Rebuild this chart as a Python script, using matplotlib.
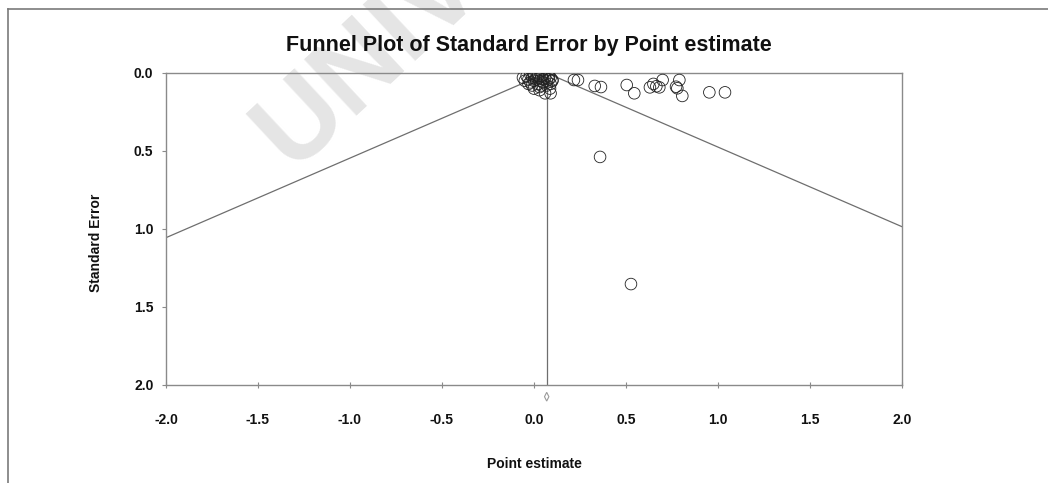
import matplotlib
matplotlib.use("Agg")
import matplotlib.pyplot as plt
from matplotlib.lines import Line2D
from matplotlib.patches import Polygon

plt.rcParams['font.family'] = ['Liberation Sans', 'DejaVu Sans']

# Study effect sizes (point estimates) and their standard errors
point_estimate = [
    -0.06, -0.05, -0.04, -0.03, -0.02, -0.02, -0.01, 0.00, 0.00, 0.01,
    0.01, 0.02, 0.02, 0.03, 0.03, 0.04, 0.04, 0.05, 0.05, 0.06,
    0.07, 0.08, 0.09, 0.10, 0.09, 0.08, -0.01, 0.03, 0.06, 0.09,
    0.087, 0.10, 0.03, -0.03, 0.00, 0.07,
    0.217, 0.239, 0.33, 0.364, 0.504, 0.545, 0.63, 0.649, 0.665, 0.681,
    0.699, 0.772, 0.779, 0.79, 0.806, 0.953, 1.038, 0.359, 0.527,
]
standard_error = [
    0.03, 0.05, 0.02, 0.04, 0.01, 0.06, 0.03, 0.02, 0.05, 0.01,
    0.04, 0.02, 0.07, 0.03, 0.05, 0.02, 0.08, 0.04, 0.06, 0.03,
    0.05, 0.04, 0.07, 0.05, 0.03, 0.02, 0.08, 0.11, 0.13, 0.13,
    0.10, 0.045, 0.09, 0.07, 0.10, 0.08,
    0.045, 0.045, 0.083, 0.09, 0.077, 0.13, 0.092, 0.07, 0.085, 0.092,
    0.045, 0.088, 0.098, 0.045, 0.147, 0.124, 0.124, 0.538, 1.353,
]

# Pooled estimate and its confidence interval
pooled_estimate = 0.069
pooled_ci = (0.057, 0.081)
z_crit = 1.96

x_ticks = [-2.0, -1.5, -1.0, -0.5, 0.0, 0.5, 1.0, 1.5, 2.0]
y_ticks = [0.0, 0.5, 1.0, 1.5, 2.0]

W, H = 1048, 483
fig = plt.figure(figsize=(W / 100, H / 100), dpi=100)
ax = fig.add_axes([166 / W, 1 - 385 / H, 736 / W, 312 / H])
ax.set_facecolor('none')

grey = '#8a8a8a'
line_grey = '#6e6e6e'

# Funnel: pseudo 95% limits around the pooled estimate
se_max = 2.2
ax.plot([pooled_estimate - z_crit * se_max, pooled_estimate, pooled_estimate + z_crit * se_max],
        [se_max, 0.0, se_max], color=line_grey, lw=0.9, zorder=2)
ax.plot([pooled_estimate, pooled_estimate], [0.0, 2.0], color=line_grey, lw=0.9, zorder=2)

ax.scatter(point_estimate, standard_error, s=70, facecolors='none',
           edgecolors='#222222', linewidths=0.6, zorder=3)

# Diamond for the pooled estimate below the axis
y_d = 2.075
dh = 0.028
diamond = Polygon([[pooled_ci[0], y_d], [pooled_estimate, y_d - dh],
                   [pooled_ci[1], y_d], [pooled_estimate, y_d + dh]],
                  closed=True, fill=False, edgecolor='#9a9a9a', lw=0.8, clip_on=False)
ax.add_patch(diamond)

ax.set_xlim(-2.0, 2.0)
ax.set_ylim(2.0, 0.0)
ax.set_xticks(x_ticks)
ax.set_yticks(y_ticks)
ax.set_xticklabels([f"{t:.1f}" for t in x_ticks])
ax.set_yticklabels([f"{t:.1f}" for t in y_ticks])

for s in ax.spines.values():
    s.set_color(grey)
    s.set_linewidth(1.0)

ax.tick_params(axis='x', direction='inout', length=4, width=0.8, color=grey,
               pad=18, labelsize=10)
ax.tick_params(axis='y', direction='out', length=3, width=0.8, color=grey,
               pad=6, labelsize=10)
for lab in ax.get_xticklabels() + ax.get_yticklabels():
    lab.set_fontweight('bold')
    lab.set_color('#111111')

ax.set_xlabel('Point estimate', fontsize=10, fontweight='bold', color='#111111')
ax.set_ylabel('Standard Error', fontsize=10, fontweight='bold', color='#111111')
ax.xaxis.set_label_coords(0.5, -0.232)
ax.yaxis.set_label_coords(-0.0856, 0.455)

fig.text(529 / W, 1 - 45 / H, 'Funnel Plot of Standard Error by Point estimate',
         ha='center', va='center', fontsize=15.5, fontweight='bold', color='#111111')

# Page watermark behind the plot
fig.text(292 / W, 1 - 170 / H, 'UNIVERSITI', fontsize=80, fontweight='bold',
         color='#e5e5e5', rotation=43, rotation_mode='anchor',
         ha='left', va='baseline', zorder=-5)

# Page frame lines
fig.add_artist(Line2D([8 / W, 1.0], [1 - 9 / H, 1 - 9 / H], color='#7a7a7a', lw=1.2,
                      transform=fig.transFigure))
fig.add_artist(Line2D([8 / W, 8 / W], [1 - 9 / H, 0.0], color='#7a7a7a', lw=1.2,
                      transform=fig.transFigure))

fig.savefig('out.png', dpi=100)
